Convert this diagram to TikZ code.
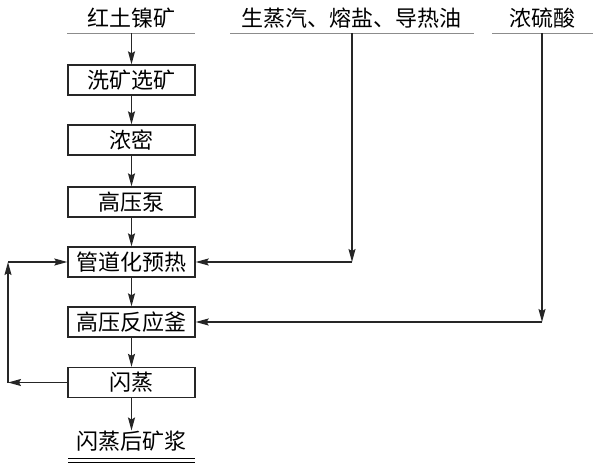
\documentclass[tikz,border=0pt]{standalone}
\usepackage{fontspec}
\newfontfamily\cjk{Noto Sans CJK SC}
\usetikzlibrary{arrows.meta}

\begin{document}
\begin{tikzpicture}[x=1pt,y=-1pt,
	box/.style={draw=black!85, line width=1.3pt, minimum width=127pt, minimum height=30pt, inner sep=0pt, font=\cjk\fontsize{22}{24}\selectfont},
	feed/.style={inner sep=0pt, font=\cjk\fontsize{22}{24}\selectfont},
	flow/.style={draw=black!85, line width=1.4pt, -{Stealth[length=13pt,width=7pt,inset=2pt]}},
	rule/.style={draw=black!45, line width=0.8pt}]
	\useasboundingbox (0,0) rectangle (600,469);

	% feeds
	\node[feed] (ore) at (131,18) {红土镍矿};
	\node[feed] (heat) at (351,18) {生蒸汽、熔盐、导热油};
	\node[feed] (acid) at (542,18) {浓硫酸};
	\draw[rule] (67,33) -- (195,33);
	\draw[rule] (230,33) -- (474,33);
	\draw[rule] (492,33) -- (593,33);
	\coordinate (ore in) at (131.5,33);
	\coordinate (heat in) at (352,33);
	\coordinate (acid in) at (542,33);

	% process boxes
	\node[box] (wash) at (131.5,80) {洗矿选矿};
	\node[box] (thick) at (131.5,140) {浓密};
	\node[box] (pump) at (131.5,202) {高压泵};
	\node[box] (preheat) at (131.5,262) {管道化预热};
	\node[box] (reactor) at (131.5,322) {高压反应釜};
	\node[box] (flash) at (131.5,382.5) {闪蒸};
	\node[feed] (slurry) at (131.5,441) {闪蒸后矿浆};
	\draw[line width=0.9pt] (68,458) -- (195,458);
	\draw[line width=0.9pt] (68,462) -- (195,462);

	% main line
	\draw[flow] (ore in) -- (wash);
	\draw[flow] (wash) -- (thick);
	\draw[flow] (thick) -- (pump);
	\draw[flow] (pump) -- (preheat);
	\draw[flow] (preheat) -- (reactor);
	\draw[flow] (reactor) -- (flash);
	\draw[flow] (flash) -- (slurry);

	% side feeds
	\coordinate (heat turn) at (352,262);
	\coordinate (acid turn) at (542,322);
	\draw[flow] (heat in) -- (heat turn);
	\draw[flow] (heat turn) -- (preheat.east);
	\draw[flow] (acid in) -- (acid turn);
	\draw[flow] (acid turn) -- (reactor.east);

	% flash steam back to preheat
	\coordinate (loop low) at (8,382.5);
	\coordinate (loop high) at (8,262);
	\draw[flow] (flash.west) -- (loop low);
	\draw[flow] (loop low) -- (loop high);
	\draw[flow] (loop high) -- (preheat.west);
\end{tikzpicture}
\end{document}
